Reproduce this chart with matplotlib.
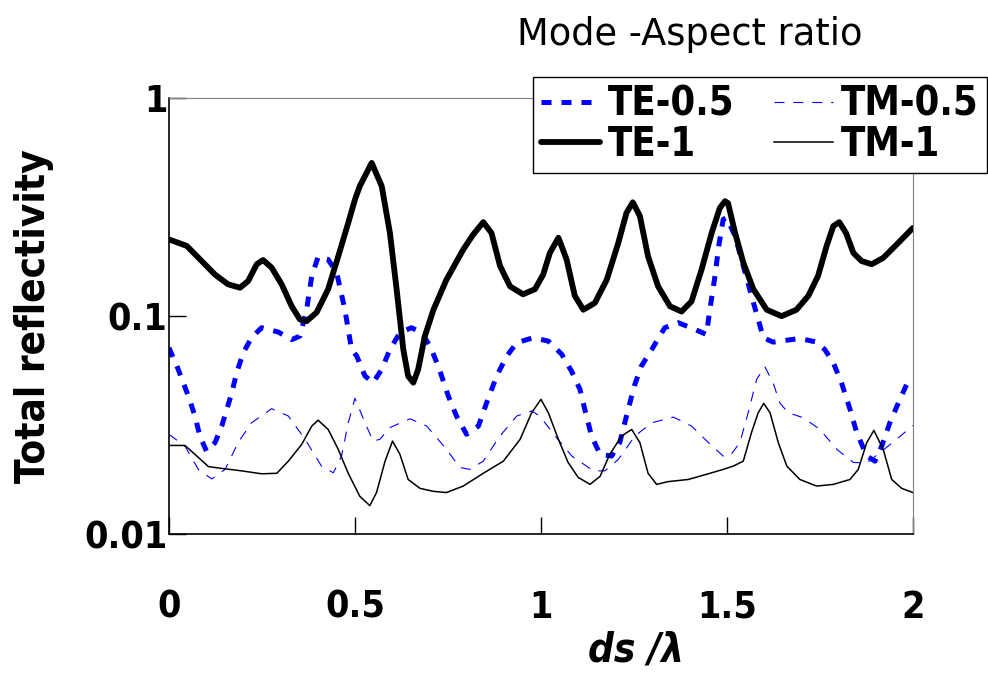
import numpy as np
import matplotlib
matplotlib.use('Agg')
import matplotlib.pyplot as plt

# values (ds/lambda, total reflectivity)
te05_x = [0.0, 0.025, 0.052, 0.07, 0.083, 0.101, 0.124, 0.142, 0.169, 0.182, 0.2, 0.222, 0.249, 0.294,
          0.33, 0.352, 0.37, 0.384, 0.401, 0.428, 0.451, 0.473, 0.491, 0.505, 0.527, 0.549, 0.572, 0.594,
          0.621, 0.652, 0.679, 0.702, 0.724, 0.751, 0.773, 0.8, 0.832, 0.854, 0.881, 0.908, 0.935, 0.979,
          1.02, 1.056, 1.082, 1.105, 1.118, 1.136, 1.159, 1.19, 1.212, 1.23, 1.251, 1.27, 1.298, 1.333,
          1.369, 1.414, 1.445, 1.454, 1.468, 1.478, 1.49, 1.499, 1.522, 1.544, 1.566, 1.584, 1.598, 1.624,
          1.696, 1.741, 1.763, 1.786, 1.808, 1.831, 1.849, 1.876, 1.898, 1.916, 1.938, 1.961, 1.983, 2.0]
te05_y = [0.0716, 0.057, 0.043, 0.0348, 0.0282, 0.024, 0.0263, 0.0313, 0.0445, 0.055, 0.068, 0.0796, 0.0885, 0.0845,
          0.078, 0.081, 0.107, 0.153, 0.187, 0.182, 0.158, 0.107, 0.0703, 0.0655, 0.0531, 0.0495, 0.057, 0.0703,
          0.084, 0.0885, 0.084, 0.0728, 0.059, 0.043, 0.0348, 0.0287, 0.0313, 0.040, 0.0531, 0.0655, 0.0755, 0.0796,
          0.0768, 0.0668, 0.056, 0.0461, 0.0373, 0.0282, 0.0232, 0.0228, 0.0263, 0.0348, 0.0478, 0.059, 0.0703, 0.0885,
          0.0933, 0.0869, 0.0824, 0.107, 0.153, 0.210, 0.278, 0.283, 0.233, 0.170, 0.124, 0.0966, 0.0796, 0.076,
          0.079, 0.076, 0.0703, 0.0611, 0.0495, 0.0373, 0.0292, 0.0228, 0.0216, 0.0253, 0.0324, 0.040, 0.0486, 0.052]

tm05_x = [0.0, 0.043, 0.079, 0.115, 0.151, 0.186, 0.222, 0.276, 0.321, 0.366, 0.41, 0.442, 0.464, 0.482,
          0.5, 0.527, 0.549, 0.567, 0.594, 0.648, 0.693, 0.746, 0.782, 0.809, 0.845, 0.89, 0.935, 0.975,
          0.997, 1.038, 1.083, 1.141, 1.172, 1.208, 1.253, 1.298, 1.356, 1.405, 1.45, 1.49, 1.508, 1.535,
          1.557, 1.58, 1.602, 1.624, 1.642, 1.665, 1.705, 1.75, 1.795, 1.84, 1.876, 1.911, 1.956, 2.0]
tm05_y = [0.0287, 0.0253, 0.0198, 0.0179, 0.0198, 0.0263, 0.0324, 0.0376, 0.0348, 0.0272, 0.0205, 0.0191, 0.0228, 0.0324,
          0.042, 0.0324, 0.0267, 0.0272, 0.0308, 0.0338, 0.0313, 0.0245, 0.0202, 0.0198, 0.0216, 0.0282, 0.0348, 0.0367,
          0.0348, 0.0282, 0.0228, 0.0195, 0.0195, 0.022, 0.0282, 0.0324, 0.0344, 0.0313, 0.0263, 0.0228, 0.0228, 0.0263,
          0.036, 0.0513, 0.0586, 0.0495, 0.040, 0.036, 0.0342, 0.0302, 0.0245, 0.0213, 0.0212, 0.0236, 0.0272, 0.0315]

te1_x = [0.0, 0.048, 0.088, 0.124, 0.159, 0.191, 0.213, 0.236, 0.253, 0.276, 0.303, 0.33, 0.352, 0.37,
         0.397, 0.428, 0.455, 0.482, 0.5, 0.513, 0.545, 0.572, 0.594, 0.612, 0.63, 0.643, 0.657, 0.67,
         0.688, 0.711, 0.746, 0.791, 0.818, 0.845, 0.867, 0.89, 0.917, 0.952, 0.984, 1.006, 1.024, 1.047,
         1.069, 1.091, 1.114, 1.145, 1.177, 1.208, 1.23, 1.247, 1.266, 1.288, 1.315, 1.347, 1.378, 1.405,
         1.432, 1.459, 1.481, 1.495, 1.503, 1.522, 1.544, 1.571, 1.607, 1.647, 1.687, 1.719, 1.745, 1.768,
         1.786, 1.802, 1.82, 1.84, 1.862, 1.889, 1.92, 1.956, 2.0]
te1_y = [0.225, 0.21, 0.179, 0.155, 0.14, 0.135, 0.145, 0.173, 0.181, 0.167, 0.14, 0.111, 0.0966, 0.0948,
         0.104, 0.133, 0.188, 0.268, 0.343, 0.395, 0.505, 0.395, 0.241, 0.133, 0.0703, 0.0531, 0.0495, 0.057,
         0.081, 0.107, 0.147, 0.202, 0.237, 0.27, 0.241, 0.17, 0.137, 0.126, 0.133, 0.155, 0.195, 0.229,
         0.182, 0.124, 0.107, 0.115, 0.147, 0.217, 0.298, 0.333, 0.288, 0.188, 0.137, 0.111, 0.105, 0.117,
         0.164, 0.241, 0.314, 0.337, 0.33, 0.241, 0.176, 0.133, 0.107, 0.1, 0.107, 0.124, 0.153, 0.21,
         0.259, 0.27, 0.241, 0.195, 0.179, 0.173, 0.185, 0.213, 0.254]

tm1_x = [0.0, 0.043, 0.07, 0.106, 0.142, 0.195, 0.249, 0.29, 0.321, 0.357, 0.384, 0.401, 0.428, 0.455,
         0.482, 0.513, 0.54, 0.558, 0.581, 0.601, 0.621, 0.643, 0.675, 0.711, 0.746, 0.791, 0.845, 0.899,
         0.944, 0.975, 1.0, 1.02, 1.047, 1.073, 1.1, 1.132, 1.159, 1.185, 1.217, 1.244, 1.266, 1.288,
         1.311, 1.342, 1.396, 1.45, 1.49, 1.517, 1.544, 1.566, 1.584, 1.599, 1.616, 1.638, 1.661, 1.696,
         1.741, 1.786, 1.831, 1.853, 1.876, 1.895, 1.92, 1.943, 1.97, 2.0]
tm1_y = [0.0255, 0.0255, 0.0232, 0.0204, 0.020, 0.0195, 0.0189, 0.019, 0.0216, 0.0258, 0.0313, 0.0333, 0.0302, 0.0245,
         0.019, 0.0149, 0.0135, 0.0155, 0.0216, 0.0267, 0.0232, 0.0178, 0.0162, 0.0157, 0.0155, 0.0166, 0.019, 0.0216,
         0.0272, 0.036, 0.0415, 0.036, 0.0272, 0.0213, 0.0182, 0.0169, 0.0184, 0.0232, 0.0282, 0.0302, 0.0263, 0.019,
         0.0169, 0.0174, 0.0178, 0.0189, 0.0198, 0.0205, 0.0216, 0.0292, 0.036, 0.0398, 0.036, 0.0263, 0.0205, 0.0178,
         0.0166, 0.0169, 0.0178, 0.0198, 0.0263, 0.0299, 0.0245, 0.0178, 0.0162, 0.0155]

x_ticks = [0, 0.5, 1, 1.5, 2]
x_ticklabels = ['0', '0.5', '1', '1.5', '2']
y_ticks = [0.01, 0.1, 1]
y_ticklabels = ['0.01', '0.1', '1']

bold = dict(family='DejaVu Sans', weight='bold', stretch='condensed')

fig = plt.figure(figsize=(9.88, 6.73), dpi=100)
ax = fig.add_axes([0.171, 0.2065, 0.753, 0.6475])

l1, = ax.plot(te05_x, te05_y, color='blue', lw=3.6, ls=(0, (2, 2)), label='TE-0.5')
l2, = ax.plot(tm05_x, tm05_y, color='blue', lw=0.8, ls=(0, (9, 8)), label='TM-0.5')
l3, = ax.plot(te1_x, te1_y, color='black', lw=4.2, label='TE-1', solid_joinstyle='round', solid_capstyle='round')
l4, = ax.plot(tm1_x, tm1_y, color='black', lw=1.1, label='TM-1', solid_joinstyle='round')

ax.set_yscale('log')
ax.set_xlim(0, 2)
ax.set_ylim(0.01, 1)
ax.set_xticks(x_ticks)
ax.set_xticklabels(x_ticklabels)
ax.set_yticks(y_ticks)
ax.set_yticklabels(y_ticklabels)
ax.minorticks_off()
ax.tick_params(direction='in', length=12, width=1)
ax.tick_params(axis='x', pad=40)
ax.tick_params(axis='y', pad=1)
for lab in ax.get_xticklabels() + ax.get_yticklabels():
    lab.set(fontsize=27, **bold)

ax.spines['top'].set_color('gray')
ax.spines['right'].set_color('gray')
ax.spines['left'].set_linewidth(1.2)
ax.spines['bottom'].set_linewidth(1.2)

ax.set_ylabel('Total reflectivity', fontsize=29, **bold)
ax.yaxis.set_label_coords(-0.155, 0.5)
ax.set_xlabel('ds /\u03bb', fontsize=29, style='italic', **bold)
ax.xaxis.set_label_coords(0.628, -0.222)

fig.text(0.698, 0.949, 'Mode -Aspect ratio', fontsize=26.5, ha='center', va='center', family='DejaVu Sans')

leg = ax.legend([l1, l3, l2, l4], ['TE-0.5', 'TE-1', 'TM-0.5', 'TM-1'],
                loc='upper right', bbox_to_anchor=(0.999, 0.886), bbox_transform=fig.transFigure,
                ncol=2, frameon=True, fancybox=False, edgecolor='black', framealpha=1,
                handlelength=1.5, handletextpad=0.2, columnspacing=1.0, borderpad=0.2,
                labelspacing=0.0, borderaxespad=0, prop=dict(size=28.5, **bold))
leg.get_frame().set_linewidth(1.0)

fig.savefig('out.png', dpi=100)
